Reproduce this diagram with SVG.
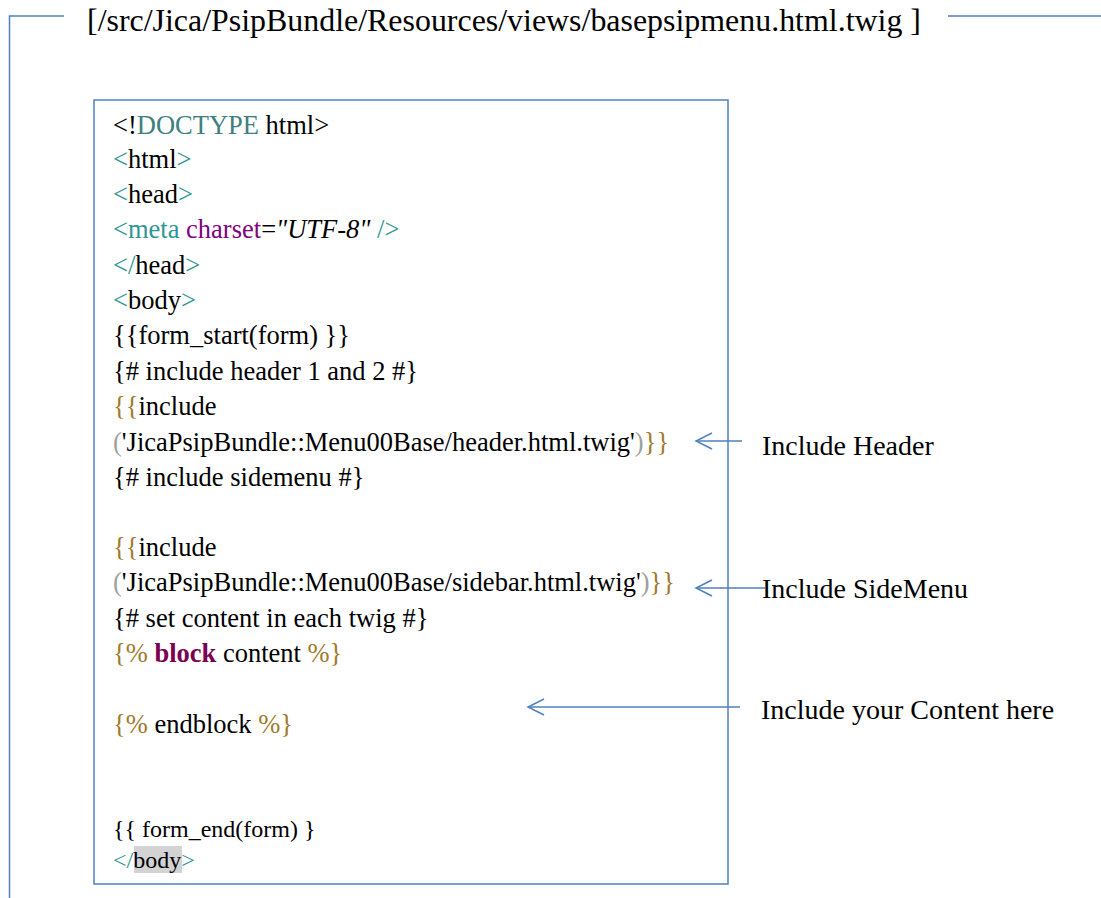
<svg xmlns="http://www.w3.org/2000/svg" width="1101" height="898" viewBox="0 0 1101 898">
<style>
.ln{fill:none;stroke:#4f81bd;stroke-width:1.5}
.code{font-size:26.5px;fill:#000}
.sm{font-size:24px}
.lbl{font-size:28px;fill:#000}
.title{font-size:31px;fill:#000}
.tg{fill:#2e9696}
.dt{fill:#3e8080}
.at{fill:#800080}
.gd{fill:#a07a2c}
.gy{fill:#a0a0a0}
.kw{fill:#7b0050;font-weight:bold}
</style>
<defs>
<marker id="ah" markerWidth="22" markerHeight="20" refX="19" refY="10" orient="auto" markerUnits="userSpaceOnUse">
<path d="M3,2 L19,10 L3,18" fill="none" stroke="#4f81bd" stroke-width="1.5"/>
</marker>
</defs>
<rect width="1101" height="898" fill="#fff"/>
<g font-family="'Liberation Serif', 'Times New Roman', serif">
<g id="frame">
<path class="ln" d="M64,16 H9.5 V898"/>
<path class="ln" d="M948,16 H1101"/>
<text class="title" x="87" y="31" textLength="834" lengthAdjust="spacingAndGlyphs">[/src/Jica/PsipBundle/Resources/views/basepsipmenu.html.twig ]</text>
</g>
<g id="codebox">
<rect x="94" y="100" width="634" height="784" class="ln"/>
<rect x="134" y="846" width="48" height="27" fill="#d3d3d3"/>
<text class="code" x="113" y="134">&lt;!<tspan class="dt">DOCTYPE</tspan> html&gt;</text>
<text class="code" x="113" y="168"><tspan class="tg">&lt;</tspan>html<tspan class="tg">&gt;</tspan></text>
<text class="code" x="113" y="203"><tspan class="tg">&lt;</tspan>head<tspan class="tg">&gt;</tspan></text>
<text class="code" x="113" y="238"><tspan class="tg">&lt;meta </tspan><tspan class="at">charset</tspan>=<tspan font-style="italic">"UTF-8"</tspan><tspan class="tg"> /&gt;</tspan></text>
<text class="code" x="113" y="274"><tspan class="tg">&lt;/</tspan>head<tspan class="tg">&gt;</tspan></text>
<text class="code" x="113" y="309"><tspan class="tg">&lt;</tspan>body<tspan class="tg">&gt;</tspan></text>
<text class="code" x="113" y="344">{{form_start(form) }}</text>
<text class="code" x="113" y="380">{# include header 1 and 2 #}</text>
<text class="code" x="113" y="415"><tspan class="gd">{{</tspan>include</text>
<text class="code" x="113" y="451"><tspan class="gy">(</tspan>'JicaPsipBundle::Menu00Base/header.html.twig'<tspan class="gy">)</tspan><tspan class="gd">}}</tspan></text>
<text class="code" x="113" y="486">{# include sidemenu #}</text>
<text class="code" x="113" y="556"><tspan class="gd">{{</tspan>include</text>
<text class="code" x="113" y="591"><tspan class="gy">(</tspan>'JicaPsipBundle::Menu00Base/sidebar.html.twig'<tspan class="gy">)</tspan><tspan class="gd">}}</tspan></text>
<text class="code" x="113" y="627">{# set content in each twig #}</text>
<text class="code" x="113" y="662"><tspan class="gd">{%</tspan> <tspan class="kw">block</tspan> content <tspan class="gd">%}</tspan></text>
<text class="code" x="113" y="733"><tspan class="gd">{%</tspan> endblock <tspan class="gd">%}</tspan></text>
<text class="code sm" x="113" y="837">{{ form_end(form) }</text>
<text class="code sm" x="113" y="868"><tspan class="tg">&lt;/</tspan>body<tspan class="tg">&gt;</tspan></text>
</g>
<g id="connectors">
<path class="ln" d="M742,441 H696" marker-end="url(#ah)"/>
<path class="ln" d="M765,588 H696" marker-end="url(#ah)"/>
<path class="ln" d="M740,707 H528" marker-end="url(#ah)"/>
</g>
<g id="label-header"><text class="lbl" x="762" y="455">Include Header</text></g>
<g id="label-sidemenu"><text class="lbl" x="762" y="598">Include SideMenu</text></g>
<g id="label-content"><text class="lbl" x="761" y="719">Include your Content here</text></g>
</g>
</svg>
